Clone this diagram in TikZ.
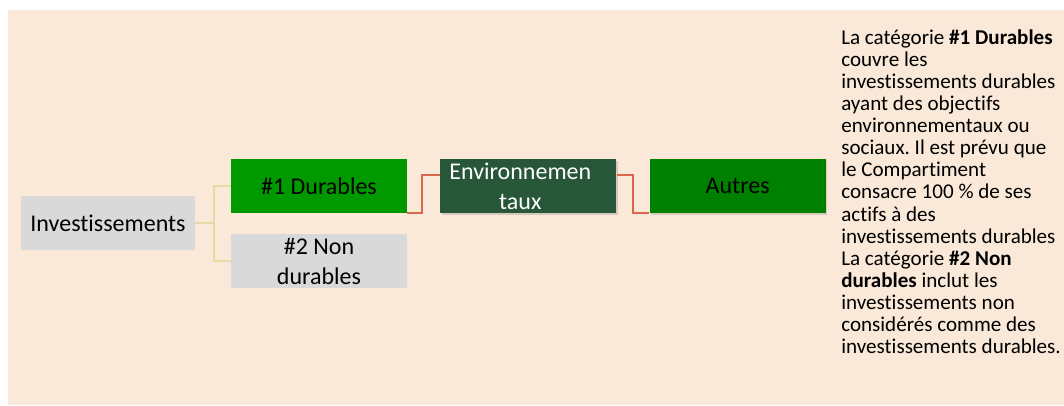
\documentclass[tikz,border=0pt]{standalone}
\usepackage{fontspec}
\setmainfont{Carlito}[Ligatures=NoCommon]
\usepackage{tikz}
\usetikzlibrary{shadows}
\frenchspacing

\definecolor{peach}{RGB}{250,232,216}
\definecolor{boxgray}{RGB}{217,217,217}
\definecolor{durgreen}{RGB}{0,153,0}
\definecolor{envgreen}{RGB}{39,86,57}
\definecolor{autgreen}{RGB}{0,128,0}
\definecolor{beigeline}{RGB}{230,218,165}
\definecolor{orangeline}{RGB}{217,105,74}

\begin{document}
\begin{tikzpicture}[x=0.75pt, y=-0.75pt, node distance=157pt,
    every node/.style={rectangle, align=center, inner sep=0pt, font=\fontsize{18}{22.5}\selectfont},
    catbox/.style={minimum width=132pt, minimum height=40.5pt},
    soft/.style={drop shadow={opacity=0.3, shadow xshift=1pt, shadow yshift=-1.5pt}},
    tree/.style={draw=beigeline, line width=1.6pt},
    link/.style={draw=orangeline, line width=1.5pt}]
    % Frame
    \useasboundingbox (0,0) rectangle (1064,406);
    \fill[peach] (8,10) rectangle (1064,405);

    % Nodes
    \node[catbox, fill=boxgray, minimum width=130.5pt] (inv) at (108,223) {Investissements};
    \node[catbox, fill=durgreen] (dur) at (319,186) {\#1 Durables};
    \node[catbox, fill=boxgray] (nondur) [below of=dur, node distance=56.25pt] {\#2 Non\\durables};
    \node[catbox, fill=envgreen, text=white, soft] (env) [right of=dur] {Environnemen\hspace*{12pt}\\taux\hspace*{12pt}};
    \node[catbox, fill=autgreen, soft] (aut) [right of=env] {Autres};
    \node[anchor=north west, align=left, font=\fontsize{15.8}{16.6}\selectfont] (note) at (841,29)
      {La catégorie \textbf{\#1 Durables}\\couvre les\\investissements durables\\ayant des objectifs\\environnementaux ou\\sociaux. Il est prévu que\\le Compartiment\\consacre 100 \% de ses\\actifs à des\\investissements durables\\La catégorie \textbf{\#2 Non}\\\textbf{durables} inclut les\\investissements non\\considérés comme des\\investissements durables.};

    \coordinate (envin) at ([yshift=-12pt]env.north west);
    \coordinate (envout) at ([yshift=-12pt]env.north east);

    % Paths
    \draw[tree] (inv.east) -- ++(19,0) |- (dur.west);
    \draw[tree] (inv.east) -- ++(19,0) |- (nondur.west);
    \draw[link] (dur.south east) -- ++(15,0) |- (envin);
    \draw[link] (envout) -- ++(16,0) |- (aut.south west);
\end{tikzpicture}
\end{document}
